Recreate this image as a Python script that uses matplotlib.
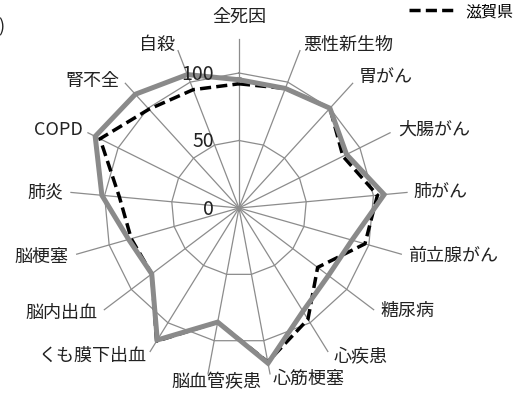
import numpy as np
import matplotlib
matplotlib.use("Agg")
import matplotlib.pyplot as plt
from matplotlib.lines import Line2D

plt.rcParams['font.family'] = ['Noto Sans CJK JP', 'DejaVu Sans']

# カテゴリ（時計回り、上から）
categories = ['全死因', '悪性新生物', '胃がん', '大腸がん', '肺がん', '前立腺がん',
              '糖尿病', '心疾患', '心筋梗塞', '脳血管疾患', 'くも膜下出血',
              '脳内出血', '脳梗塞', '肺炎', 'COPD', '腎不全', '自殺']
# 灰色の系列（凡例は切れている）
other_vals = [95, 95, 100, 89, 108, 87, 83, 90, 117, 86, 115, 81, 85, 102, 119, 114, 106]
# 滋賀県
shiga_vals = [92, 95, 100, 86, 103, 97, 73, 97, 116, 86, 116, 81, 83, 89, 115, 99, 94]
ring_vals = [50, 100]
tick_vals = [0, 50, 100]
r_max = 125

# ラベル位置の微調整 (ha, dx px, dy px)
label_pos = [('center', 0, 22), ('left', 3, 6), ('left', 6, 6), ('left', 8, 3),
             ('left', 6, 0), ('left', 7, -2), ('left', 7, -1), ('left', 6, -5),
             ('left', 3, -5), ('center', 8, -8), ('right', -3, -4), ('right', -7, -3),
             ('right', -8, -3), ('right', -8, 0), ('right', -5, 3), ('right', -6, 2),
             ('right', -3, 6)]

W, H = 522, 394
cx, cy = 239, 208      # 中心 (px)
scale = 1.35           # px / 値

fig = plt.figure(figsize=(W / 100, H / 100), dpi=100)
ax = fig.add_axes([0, 0, 1, 1])
ax.set_xlim(-cx / scale, (W - cx) / scale)
ax.set_ylim(-(H - cy) / scale, cy / scale)
ax.axis('off')

n = len(categories)
theta = np.arange(n) * 2 * np.pi / n


def xy(vals):
    v = np.asarray(vals, dtype=float)
    return v * np.sin(theta), v * np.cos(theta)


grid_c = '#8c8c8c'
# 放射線
for t in theta:
    ax.plot([0, r_max * np.sin(t)], [0, r_max * np.cos(t)], color=grid_c, lw=0.9, zorder=1)
# 同心多角形
for rv in ring_vals:
    x, y = xy([rv] * n)
    ax.plot(np.append(x, x[0]), np.append(y, y[0]), color=grid_c, lw=0.9, zorder=1)

# データ
dash = (0, (3.2, 1.5))
x, y = xy(shiga_vals)
ax.plot(np.append(x, x[0]), np.append(y, y[0]), color='black', lw=2.5,
        linestyle=dash, zorder=3)
x, y = xy(other_vals)
ax.plot(np.append(x, x[0]), np.append(y, y[0]), color='#8a8a8a', lw=3.6,
        solid_joinstyle='miter', zorder=4)

# 目盛りラベル
for tv in tick_vals:
    ax.text(-18.5, tv - 1, str(tv), ha='right', va='center', fontsize=14,
            color='#222222', zorder=5)

# カテゴリラベル
for i, lab in enumerate(categories):
    ha, dx, dy = label_pos[i]
    ex, ey = r_max * np.sin(theta[i]), r_max * np.cos(theta[i])
    ax.annotate(lab, (ex, ey), xytext=(dx, dy), textcoords='offset pixels',
                ha=ha, va='center', fontsize=13, color='#222222')

ax.text(4 / scale - cx / scale, (cy - 27) / scale, ')', ha='right', va='center',
        fontsize=13, color='#222222')

# 凡例
h = Line2D([], [], color='black', lw=2.5, linestyle=dash)
fig.legend(handles=[h], labels=['滋賀県'], loc='upper right',
           bbox_to_anchor=(513 / W, 1 - 3 / H), frameon=False, fontsize=11.5,
           handlelength=2.8, handletextpad=0.7, borderpad=0, borderaxespad=0)

fig.savefig('out.png', dpi=100)
